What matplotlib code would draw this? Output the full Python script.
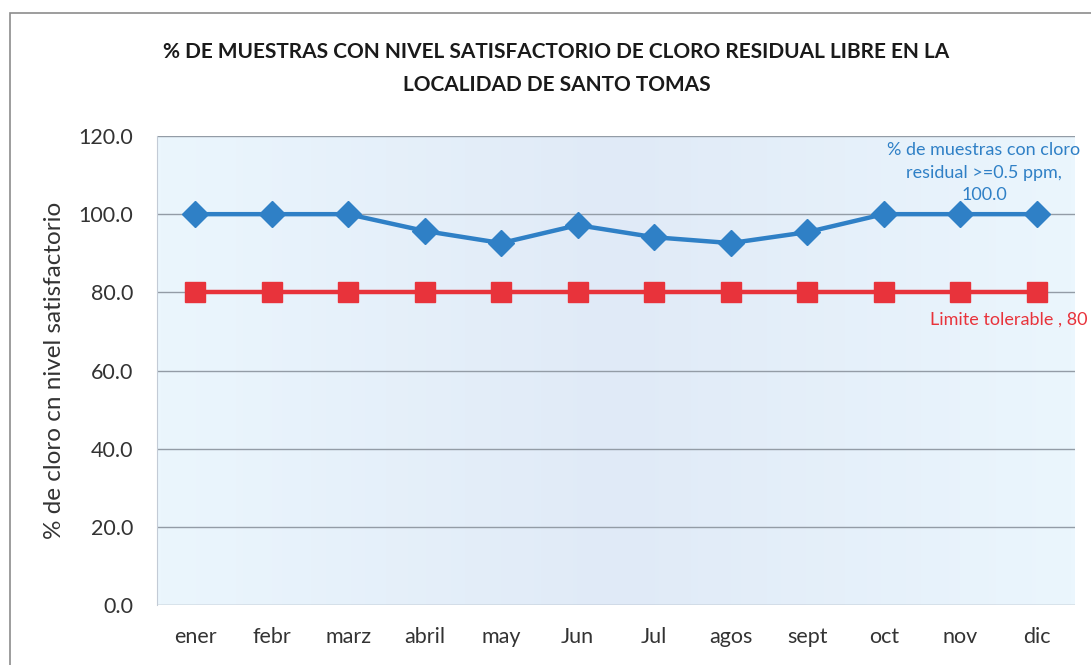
import numpy as np
import matplotlib.pyplot as plt
import matplotlib.transforms as mtransforms
from matplotlib.colors import LinearSegmentedColormap
from matplotlib.patches import Rectangle

# datos
meses = ['ener', 'febr', 'marz', 'abril', 'may', 'Jun', 'Jul', 'agos', 'sept', 'oct', 'nov', 'dic']
muestras = [100.0, 100.0, 100.0, 95.7, 92.6, 97.2, 94.1, 92.6, 95.4, 100.0, 100.0, 100.0]
limite = [80.0] * 12
yticks = [0, 20, 40, 60, 80, 100, 120]

plt.rcParams['font.family'] = ['Lato', 'DejaVu Sans']

fig = plt.figure(figsize=(10.91, 6.65), dpi=100, facecolor='white')
ax = fig.add_axes([0.1439, 0.0902, 0.8414, 0.7053])

x = np.arange(len(meses))
ax.set_xlim(-0.5, len(meses) - 0.5)
ax.set_ylim(0, 120)

# fondo celeste con degradado (un poco mas oscuro al centro)
cmap = LinearSegmentedColormap.from_list('fondo', ['#ebf6fd', '#e0eaf7', '#ebf6fd'])
grad = np.linspace(0, 1, 256).reshape(1, -1)
ax.imshow(grad, extent=[-0.5, len(meses) - 0.5, 0, 120], aspect='auto', cmap=cmap, zorder=0)

for v in yticks:
    ax.axhline(v, color='#939ca6', lw=1, zorder=1)

ax.plot(x, muestras, color='#2f80c6', lw=3.2, marker='D', markersize=13, zorder=3)
ax.plot(x, limite, color='#e8333b', lw=3.2, marker='s', markersize=14, zorder=3)

ax.set_xticks(x)
ax.set_xticklabels(meses, fontsize=15.5, color='#333333')
ax.set_yticks(yticks)
ax.set_yticklabels(['%.1f' % v for v in yticks], fontsize=15.5, color='#333333')
ax.tick_params(axis='y', length=0, pad=17)
ax.tick_params(axis='x', length=0, pad=16)
for s in ['top', 'right', 'bottom']:
    ax.spines[s].set_visible(False)
ax.spines['left'].set_color('#c3cbd6')

ax.set_ylabel('% de cloro cn nivel satisfactorio', fontsize=17.5, color='#333333', labelpad=10)

# etiquetas de datos
ax.text(10.31, 110.6, '% de muestras con cloro\nresidual >=0.5 ppm,\n100.0', ha='center', va='center',
        fontsize=13, color='#2f80c6', linespacing=1.5)
trans = mtransforms.blended_transform_factory(fig.transFigure, ax.transData)
ax.text(0.997, 72.9, 'Limite tolerable , 80', ha='right', va='center', fontsize=13, color='#e8333b',
        transform=trans, clip_on=False)

fig.text(0.51, 0.922, '% DE MUESTRAS CON NIVEL SATISFACTORIO DE CLORO RESIDUAL LIBRE EN LA',
         ha='center', va='center', fontsize=15, fontweight='bold', color='#1a1a1a')
fig.text(0.51, 0.872, 'LOCALIDAD DE SANTO TOMAS',
         ha='center', va='center', fontsize=15, fontweight='bold', color='#1a1a1a')

# marco del grafico
fig.add_artist(Rectangle((10 / 1091, -0.05), 1.1, 1.05 - 13 / 665, transform=fig.transFigure,
                         fill=False, edgecolor='#8c8c8c', lw=1.2))

fig.savefig('out.png', dpi=100, facecolor='white')
